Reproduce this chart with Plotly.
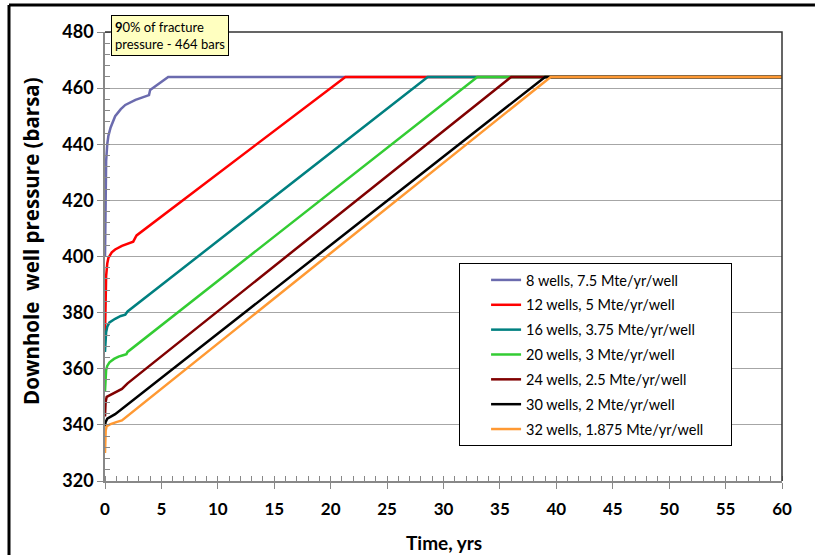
import plotly.graph_objects as go

# Downhole pressure build-up per injection scenario (time in years, pressure in barsa)
t_8 = [0, 0.03, 0.06, 0.1, 0.2, 0.3, 0.5, 0.9, 1.4, 1.8, 2.7, 3.5, 3.9, 4.0, 4.4, 5.0, 5.6, 60]
p_8 = [400, 408, 420, 434, 440, 443, 446, 450, 452.5, 454, 455.8, 457, 457.5, 459.3, 460.5, 462.3, 464, 464]

t_12 = [0, 0.05, 0.1, 0.2, 0.3, 0.6, 0.9, 1.5, 2.0, 2.5, 2.7, 2.8, 21.3, 60]
p_12 = [372, 385, 393, 397.5, 399.5, 401.5, 402.5, 403.8, 404.6, 405.3, 406.8, 407.5, 464, 464]

t_16 = [0, 0.05, 0.1, 0.2, 0.4, 0.9, 1.4, 1.8, 2.0, 28.6, 60]
p_16 = [366, 370, 373, 375, 376.5, 377.8, 378.8, 379.3, 380.4, 464, 464]

t_20 = [0, 0.05, 0.1, 0.2, 0.4, 0.8, 1.2, 1.6, 1.9, 2.0, 33.0, 60]
p_20 = [352, 357, 359.5, 361, 362.3, 363.5, 364.3, 364.8, 365.2, 366, 464, 464]

t_24 = [0, 0.05, 0.15, 0.6, 1.0, 1.5, 2.0, 36.0, 60]
p_24 = [343, 348, 350, 351, 351.8, 352.8, 354.8, 464, 464]

t_30 = [0, 0.05, 0.2, 0.5, 0.9, 39.0, 60]
p_30 = [339.5, 341, 342.2, 343, 343.8, 464, 464]

t_32 = [0, 0.03, 0.06, 0.15, 0.44, 1.0, 1.5, 39.5, 60]
p_32 = [330, 334, 338, 339.5, 340.2, 341, 341.6, 464, 464]

series_names = [
    "8 wells, 7.5 Mte/yr/well",
    "12 wells, 5 Mte/yr/well",
    "16 wells, 3.75 Mte/yr/well",
    "20 wells, 3 Mte/yr/well",
    "24 wells, 2.5 Mte/yr/well",
    "30 wells, 2 Mte/yr/well",
    "32 wells, 1.875 Mte/yr/well",
]
series_colors = ["#6B6BAE", "#FF0000", "#008080", "#33CC33", "#800000", "#000000", "#FF9933"]
series_t = [t_8, t_12, t_16, t_20, t_24, t_30, t_32]
series_p = [p_8, p_12, p_16, p_20, p_24, p_30, p_32]

x_ticks = list(range(0, 61, 5))
y_ticks = list(range(320, 481, 20))

FONT = "Lato, 'Open Sans', sans-serif"
LEGEND_PAD = "\u00a0" * 6  # keeps some room on the right of the legend box

fig = go.Figure()
for i, (name, color, tt, pp) in enumerate(zip(series_names, series_colors, series_t, series_p)):
    fig.add_trace(go.Scatter(
        x=tt, y=pp, mode="lines", name=name + LEGEND_PAD,
        line=dict(color=color, width=2.5),
        legendgroup=f"g{i}",
    ))

fig.update_layout(
    width=815, height=555,
    margin=dict(l=105, r=33, t=32, b=74),
    paper_bgcolor="white", plot_bgcolor="white",
    font=dict(family=FONT, color="black"),
    showlegend=True,
    legend=dict(
        x=0.523, y=0.4855, xanchor="left", yanchor="top",
        bgcolor="white", bordercolor="black", borderwidth=1,
        font=dict(size=14.5, family=FONT),
        tracegroupgap=3, indentation=26,
    ),
    xaxis=dict(
        range=[0, 60], tickvals=x_ticks, ticks="outside", ticklen=6,
        tickcolor="#888888", showline=True, linecolor="#888888", linewidth=1.5,
        showgrid=False, zeroline=False, ticklabelstandoff=6, automargin=False,
        tickfont=dict(size=17, family=FONT, weight="bold"),
        minor=dict(dtick=1, ticks="inside", ticklen=5, tickcolor="#888888", showgrid=False),
    ),
    yaxis=dict(
        range=[320, 480], tickvals=y_ticks, ticks="outside", ticklen=6,
        tickcolor="#888888", showline=True, linecolor="#888888", linewidth=1.5,
        showgrid=True, gridcolor="#A6A6A6", gridwidth=1, zeroline=False, automargin=False,
        tickfont=dict(size=18, family=FONT, weight="bold"),
        minor=dict(dtick=4, ticks="inside", ticklen=5, tickcolor="#888888", showgrid=False),
    ),
    shapes=[
        # plot-area frame on top and right
        dict(type="path", xref="paper", yref="paper",
             path="M 0 1 L 1 1 L 1 0", line=dict(color="#333333", width=1.5)),
        # outer chart frame (left and top edges)
        dict(type="line", xref="paper", yref="paper", x0=-0.1418, x1=-0.1418, y0=-0.1648, y1=1.0601,
             line=dict(color="black", width=3)),
        dict(type="line", xref="paper", yref="paper", x0=-0.1418, x1=1.0487, y0=1.0601, y1=1.0601,
             line=dict(color="black", width=3)),
    ],
    annotations=[
        dict(xref="paper", yref="paper", x=0.009, y=1.038, xanchor="left", yanchor="top",
             text="<b>9</b>0% of fracture<br>pressure - 464 bars", showarrow=False, align="left",
             font=dict(size=13, family=FONT), bgcolor="#FFFFC0", bordercolor="black",
             borderwidth=1, borderpad=3),
        # axis titles
        dict(xref="paper", yref="paper", x=0.5, y=-0.138, xanchor="center", yanchor="middle",
             text="<b>Time, yrs</b>", showarrow=False, font=dict(size=19, family=FONT)),
        dict(xref="paper", yref="paper", x=-0.109, y=0.535, xanchor="center", yanchor="middle",
             text="<b>Downhole  well pressure (barsa)</b>", textangle=-90, showarrow=False,
             font=dict(size=20.5, family="'Open Sans', sans-serif")),
    ],
)

# page without margins or scrollbars around the figure
page_js = (
    "document.documentElement.style.overflow='hidden';"
    "document.body.style.margin='0';document.body.style.overflow='hidden';"
)
fig.write_html("out.html", post_script=page_js)
